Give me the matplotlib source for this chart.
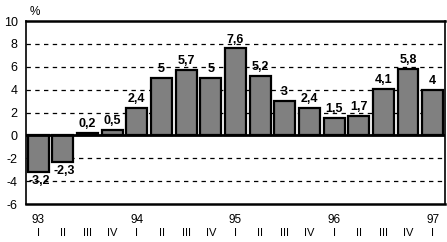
import numpy as np
import matplotlib
matplotlib.use('Agg')
import matplotlib.pyplot as plt

plt.rcParams['font.family'] = ['Liberation Sans', 'DejaVu Sans']

values = [-3.2, -2.3, 0.2, 0.5, 2.4, 5, 5.7, 5, 7.6, 5.2, 3, 2.4, 1.5, 1.7, 4.1, 5.8, 4]
labels = ['-3,2', '-2,3', '0,2', '0,5', '2,4', '5', '5,7', '5', '7,6', '5,2', '3', '2,4',
          '1,5', '1,7', '4,1', '5,8', '4']
quarters = ['I', 'II', 'III', 'IV'] * 4 + ['I']
years = ['93', '94', '95', '96', '97']
yticks = [-6, -4, -2, 0, 2, 4, 6, 8, 10]

fig = plt.figure(figsize=(4.47, 2.42), dpi=100)
ax = fig.add_axes([0.058, 0.157, 0.9375, 0.756])

x = np.arange(len(values))
for yv in [-4, -2, 2, 4, 6, 8]:
    ax.axhline(yv, color='black', lw=0.9, ls=(0, (3.5, 3.5)), zorder=1)
ax.axhline(0, color='black', lw=2, zorder=3)

ax.bar(x, values, width=0.85, color='#808080', edgecolor='black', lw=1.6, zorder=2)

for xi, v, s in zip(x, values, labels):
    if v >= 0:
        ax.text(xi, v + 0.25, s, ha='center', va='bottom', fontsize=9, fontweight='bold')
    else:
        ax.text(xi + 0.05, v - 0.3, s, ha='center', va='top', fontsize=9, fontweight='bold')

ax.set_xlim(-0.5, len(values) - 0.5)
ax.set_ylim(-6, 10)
ax.set_yticks(yticks)
ax.set_yticklabels([str(t) for t in yticks], fontsize=9)
ax.tick_params(axis='y', length=0, pad=6)
ax.set_xticks(x)
ax.set_xticklabels(quarters, fontsize=8)
ax.tick_params(axis='x', length=0, pad=17.5)
for i, yr in enumerate(years):
    ax.text(i * 4, -6.85, yr, ha='center', va='top', fontsize=8.5)

for sp in ax.spines.values():
    sp.set_linewidth(1.8)
ax.spines['left'].set_linewidth(1.2)
ax.spines['right'].set_linewidth(1.2)

fig.text(0.067, 0.975, '%', ha='left', va='top', fontsize=8.5)

fig.savefig('out.png', dpi=100)
